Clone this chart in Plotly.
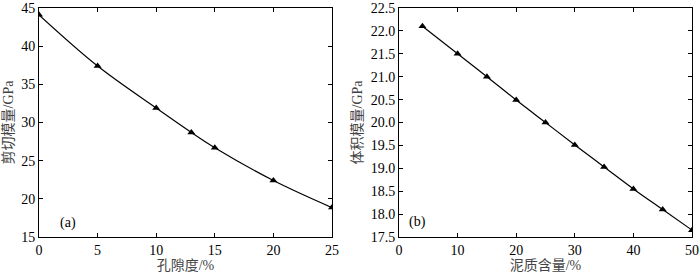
import plotly.graph_objects as go

# Panel (a)
porosity = [0, 5, 10, 13, 15, 20, 25]
shear_modulus = [44.1, 37.4, 31.9, 28.7, 26.7, 22.4, 18.85]
# Panel (b)
clay_content = [4, 10, 15, 20, 25, 30, 35, 40, 45, 50]
bulk_modulus = [22.1, 21.5, 21.0, 20.49, 20.0, 19.51, 19.03, 18.55, 18.1, 17.65]

xticks_a = [0, 5, 10, 15, 20, 25]
yticks_a = [15, 20, 25, 30, 35, 40, 45]
xticks_b = [0, 10, 20, 30, 40, 50]
yticks_b = [17.5, 18.0, 18.5, 19.0, 19.5, 20.0, 20.5, 21.0, 21.5, 22.0, 22.5]

FONT = "Times New Roman, Liberation Serif, Noto Sans CJK SC, serif"

fig = go.Figure()
fig.add_trace(go.Scatter(x=porosity, y=shear_modulus, mode="lines+markers",
                         line=dict(color="black", width=1.2, shape="spline"),
                         marker=dict(symbol="triangle-up", size=7, color="black"),
                         xaxis="x", yaxis="y", showlegend=False))
fig.add_trace(go.Scatter(x=clay_content, y=bulk_modulus, mode="lines+markers",
                         line=dict(color="black", width=1.2, shape="spline"),
                         marker=dict(symbol="triangle-up", size=7, color="black"),
                         xaxis="x2", yaxis="y2", showlegend=False))

axis_common = dict(showline=True, linecolor="black", linewidth=1, mirror="ticks",
                   ticks="inside", ticklen=4, tickcolor="black", showgrid=False,
                   zeroline=False, automargin=False,
                   tickfont=dict(family=FONT, size=14, color="black"))

fig.update_layout(
    width=700, height=276,
    margin=dict(l=0, r=0, t=8, b=39),
    paper_bgcolor="white", plot_bgcolor="white",
    font=dict(family=FONT, color="black"),
    xaxis=dict(domain=[39/700, 332/700], range=[0, 25], tickvals=xticks_a,
               title=dict(text="孔隙度/%", font=dict(family=FONT, size=14, color="#444"), standoff=2),
               anchor="y", **axis_common),
    yaxis=dict(domain=[0, 1], range=[15, 45], tickvals=yticks_a,
               title=dict(text="剪切模量/GPa", font=dict(family=FONT, size=14, color="#444"), standoff=4),
               anchor="x", **axis_common),
    xaxis2=dict(domain=[399/700, 692/700], range=[0, 50], tickvals=xticks_b,
                title=dict(text="泥质含量/%", font=dict(family=FONT, size=14, color="#444"), standoff=2),
                anchor="y2", **axis_common),
    yaxis2=dict(domain=[0, 1], range=[17.5, 22.5], tickvals=yticks_b,
                ticktext=[f"{v:.1f}" for v in yticks_b],
                title=dict(text="体积模量/GPa", font=dict(family=FONT, size=14, color="#444"), standoff=4),
                anchor="x2", **axis_common),
    annotations=[
        dict(text="(a)", x=2.5, y=16.8, xref="x", yref="y", showarrow=False,
             font=dict(family=FONT, size=14, color="black")),
        dict(text="(b)", x=3.2, y=17.83, xref="x2", yref="y2", showarrow=False,
             font=dict(family=FONT, size=14, color="black")),
    ],
)

fig.write_html("out.html", config={"displayModeBar": False},
               post_script="document.body.style.margin='0';")
